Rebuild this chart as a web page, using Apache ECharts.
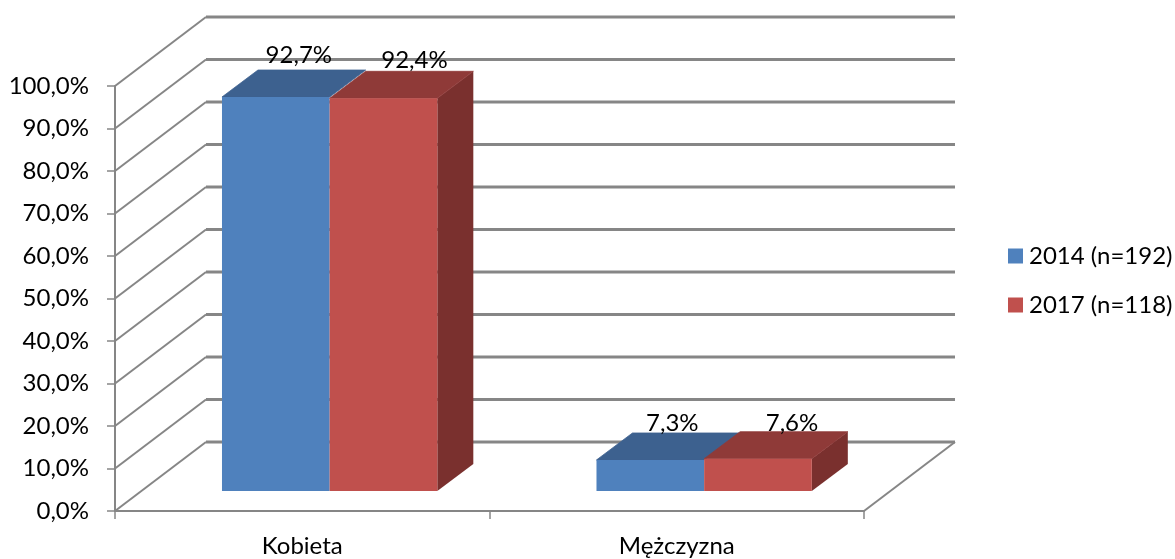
<!DOCTYPE html>
<html>
<head>
<meta charset="utf-8">
<style>html,body{margin:0;padding:0;background:#fff}#c{width:1175px;height:559px}</style>
<script src="https://cdn.jsdelivr.net/npm/echarts@6/dist/echarts.min.js"></script>
</head>
<body>
<div id="c"></div>
<script>
const categories = ['Kobieta', 'Mężczyzna'];
const seriesNames = ['2014 (n=192)', '2017 (n=118)'];
const values2014 = [92.7, 7.3];
const values2017 = [92.4, 7.6];
const wallTicks = [0, 10, 20, 30, 40, 50, 60, 70, 80, 90, 100];

const FONT = 'Lato, "Open Sans", sans-serif';
const FS = 24;
const GRID_COLOR = '#868686';
const WALL_DX = 91, WALL_DY = -69;
const BAR_SHIFT_X = 27.4, BAR_SHIFT_Y = -20;
const BAR_DX = 36, BAR_DY = -27;
const BAR_SHARE = 0.2875;
const palettes = [
  { front: '#4F81BD', top: '#3D618F', side: '#3A5C87' },
  { front: '#C0504D', top: '#8F3A38', side: '#7A302E' }
];
// Hand-placed label nudges, per series and category, relative to the bar's front top centre
const labelNudge = [
  [[23, -42], [22, -37]],
  [[31, -38], [34, -35]]
];
const fmt = v => v.toFixed(1).replace('.', ',') + '%';

function wallItem(params, api) {
  const v = api.value(0);
  const cs = params.coordSys;
  const y = api.coord([0, v])[1];
  const xL = cs.x, xR = cs.x + cs.width;
  const children = [
    { type: 'line', shape: { x1: xL, y1: y, x2: xL + WALL_DX, y2: y + WALL_DY },
      style: { stroke: GRID_COLOR, lineWidth: 2 } },
    { type: 'line', shape: { x1: xL + WALL_DX, y1: y + WALL_DY, x2: xR + WALL_DX, y2: y + WALL_DY },
      style: { stroke: GRID_COLOR, lineWidth: 3 } }
  ];
  if (v === 0) {
    children.push({ type: 'line', shape: { x1: xR, y1: y, x2: xR + WALL_DX, y2: y + WALL_DY },
      style: { stroke: GRID_COLOR, lineWidth: 2 } });
  }
  return { type: 'group', children };
}

function barItem(si) {
  return function (params, api) {
    const cat = api.value(0), v = api.value(1);
    const w = api.size([1, 0])[0] * BAR_SHARE;
    const cx = api.coord([cat, v])[0] + BAR_SHIFT_X;
    const x0 = cx - w + si * w, x1 = x0 + w;
    const top = api.coord([cat, v])[1] + BAR_SHIFT_Y;
    const base = api.coord([cat, 0])[1] + BAR_SHIFT_Y;
    const p = palettes[si];
    const n = labelNudge[si][cat];
    const children = [
      { type: 'polygon', shape: { points: [[x0, top], [x0 + BAR_DX, top + BAR_DY], [x1 + BAR_DX, top + BAR_DY], [x1, top]] },
        style: { fill: p.top, stroke: p.top, lineWidth: 0.8 } },
      { type: 'rect', shape: { x: x0, y: top, width: w, height: base - top },
        style: { fill: p.front } },
      { type: 'text', z2: 50,
        style: { text: fmt(v), x: (x0 + x1) / 2 + n[0], y: top + n[1], align: 'center', verticalAlign: 'middle',
          fill: '#000', font: FS + 'px ' + FONT } }
    ];
    if (si === palettes.length - 1) {
      children.unshift({ type: 'polygon', shape: { points: [[x1, top], [x1 + BAR_DX, top + BAR_DY], [x1 + BAR_DX, base + BAR_DY], [x1, base]] },
        style: { fill: p.side } });
    }
    return { type: 'group', children };
  };
}

const chart = echarts.init(document.getElementById('c'), null, { renderer: 'canvas' });
chart.setOption({
  animation: false,
  backgroundColor: '#fff',
  grid: { left: 115, right: 311, top: 86, bottom: 48 },
  legend: {
    orient: 'vertical', left: 1003, top: 239,
    data: seriesNames,
    icon: 'rect', itemWidth: 15, itemHeight: 15, itemGap: 25,
    textStyle: { fontFamily: FONT, fontSize: FS, color: '#000', padding: [0, 0, 0, 1] }
  },
  xAxis: {
    type: 'category', data: categories,
    axisLine: { show: true, lineStyle: { color: GRID_COLOR, width: 2 } },
    axisTick: { show: true, alignWithLabel: false, length: 8, lineStyle: { color: GRID_COLOR, width: 1.5 } },
    axisLabel: { color: '#000', fontFamily: FONT, fontSize: FS, margin: 23 },
    splitLine: { show: false }
  },
  yAxis: {
    type: 'value', min: 0, max: 100, interval: 10,
    axisLine: { show: true, lineStyle: { color: GRID_COLOR, width: 2 } },
    axisTick: { show: true, length: 8, lineStyle: { color: GRID_COLOR, width: 1.5 } },
    axisLabel: { color: '#000', fontFamily: FONT, fontSize: FS, margin: 26, formatter: fmt },
    splitLine: { show: false }
  },
  series: [
    { type: 'custom', name: 'walls', z: 1, silent: true, renderItem: wallItem,
      data: wallTicks.map(v => [v]), encode: { y: 0 } },
    { type: 'custom', name: seriesNames[0], z: 2, renderItem: barItem(0),
      itemStyle: { color: palettes[0].front },
      data: values2014.map((v, i) => [i, v]), encode: { x: 0, y: 1 } },
    { type: 'custom', name: seriesNames[1], z: 3, renderItem: barItem(1),
      itemStyle: { color: palettes[1].front },
      data: values2017.map((v, i) => [i, v]), encode: { x: 0, y: 1 } }
  ]
});
</script>
</body>
</html>
